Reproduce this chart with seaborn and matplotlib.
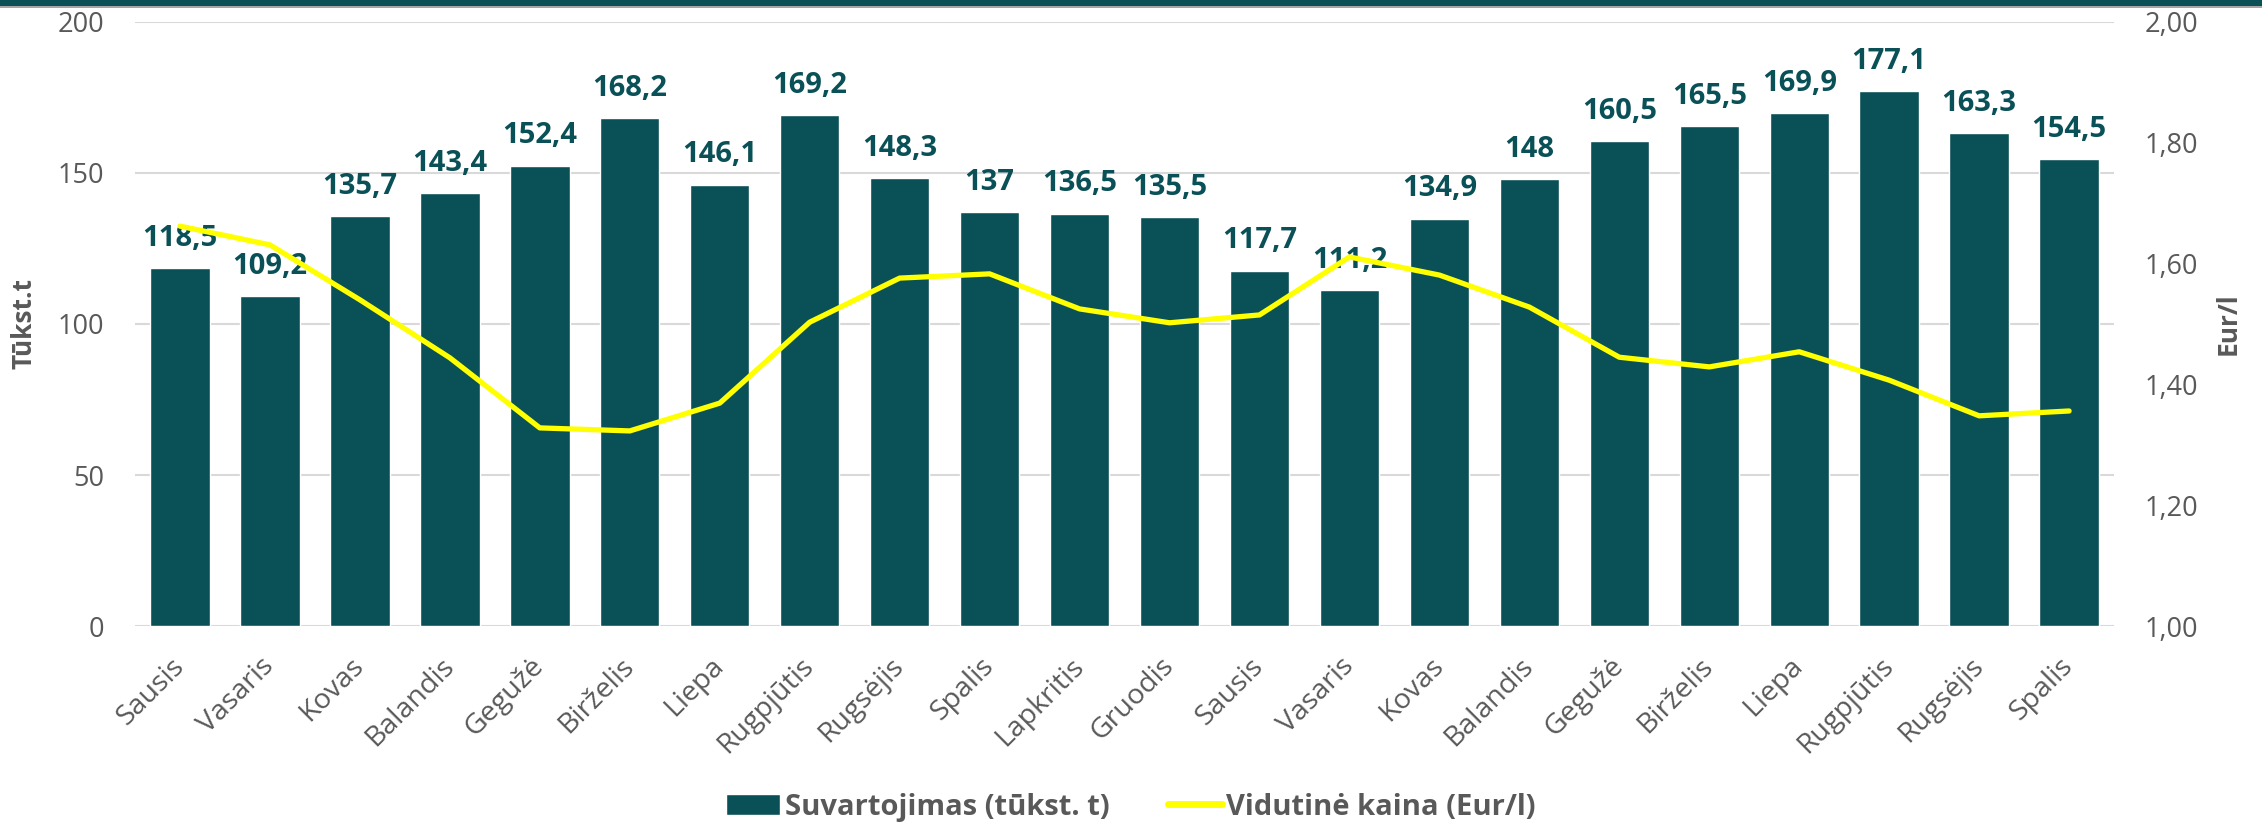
import pandas as pd
import seaborn as sns
import matplotlib.pyplot as plt
import matplotlib.transforms as mtransforms
from matplotlib.patches import Patch, Rectangle
from matplotlib.lines import Line2D
from matplotlib.ticker import FuncFormatter

# ==================== 数据 ====================
menesiai = ['Sausis', 'Vasaris', 'Kovas', 'Balandis', 'Gegužė', 'Birželis', 'Liepa',
            'Rugpjūtis', 'Rugsėjis', 'Spalis', 'Lapkritis', 'Gruodis',
            'Sausis', 'Vasaris', 'Kovas', 'Balandis', 'Gegužė', 'Birželis', 'Liepa',
            'Rugpjūtis', 'Rugsėjis', 'Spalis']
suvartojimas = [118.5, 109.2, 135.7, 143.4, 152.4, 168.2, 146.1, 169.2, 148.3, 137.0, 136.5, 135.5,
                117.7, 111.2, 134.9, 148.0, 160.5, 165.5, 169.9, 177.1, 163.3, 154.5]
kaina = [1.662, 1.631, 1.540, 1.444, 1.328, 1.323, 1.369, 1.503, 1.576, 1.583, 1.525, 1.502,
         1.515, 1.611, 1.581, 1.528, 1.445, 1.429, 1.454, 1.407, 1.348, 1.356]

bar_label = 'Suvartojimas (tūkst. t)'
line_label = 'Vidutinė kaina (Eur/l)'

df = pd.DataFrame({'idx': range(len(menesiai)), 'menuo': menesiai,
                   'kiekis': suvartojimas, 'kaina': kaina})

# ==================== 样式 ====================
sns.set_theme(style='white')
plt.rcParams['font.family'] = ['Open Sans', 'DejaVu Sans']

bar_color = '#0A5057'
line_color = '#FFFF00'
text_gray = '#595959'
grid_gray = '#D9D9D9'

fig = plt.figure(figsize=(22.62, 8.26), dpi=100)
ax1 = fig.add_axes([0.0597, 0.2421, 0.8749, 0.7313])

# 柱状图
sns.barplot(data=df, x='idx', y='kiekis', color=bar_color, width=0.66,
            saturation=1, ax=ax1, zorder=2)
ax1.set_xlim(-0.5, len(menesiai) - 0.5)
ax1.set_ylim(0, 200)
ax1.set_yticks([0, 50, 100, 150, 200])
ax1.grid(axis='y', color=grid_gray, linewidth=1.5, zorder=0)
ax1.set_axisbelow(True)
for s in ax1.spines.values():
    s.set_visible(False)

ax1.bar_label(ax1.containers[0],
              labels=[f'{v:g}'.replace('.', ',') for v in suvartojimas],
              padding=11, fontsize=21, fontweight='bold', color=bar_color)

ax1.set_xticks(range(len(menesiai)))
ax1.set_xticklabels(menesiai, rotation=45, ha='right', va='center',
                    rotation_mode='anchor', fontsize=20.5, color=text_gray)
shift = mtransforms.ScaledTranslation(8 / 100, 0, fig.dpi_scale_trans)
for lbl in ax1.get_xticklabels():
    lbl.set_transform(lbl.get_transform() + shift)
ax1.tick_params(axis='x', length=0, pad=26)
ax1.tick_params(axis='y', length=0, pad=22, labelsize=19.5, labelcolor=text_gray)
ax1.set_xlabel('')
ax1.set_ylabel('Tūkst.t', fontsize=19, fontweight='bold', color=text_gray, labelpad=15)

# 折线图（右轴）
ax2 = ax1.twinx()
sns.lineplot(data=df, x='idx', y='kaina', color=line_color, linewidth=3.8, ax=ax2)
ax2.set_ylim(1.0, 2.0)
ax2.set_yticks([1.0, 1.2, 1.4, 1.6, 1.8, 2.0])
ax2.yaxis.set_major_formatter(FuncFormatter(lambda v, p: f'{v:.2f}'.replace('.', ',')))
ax2.tick_params(axis='y', length=0, pad=22, labelsize=19.5, labelcolor=text_gray)
ax2.set_ylabel('Eur/l', fontsize=19, fontweight='bold', color=text_gray,
               rotation=90, labelpad=12)
ax2.grid(False)
for s in ax2.spines.values():
    s.set_visible(False)

# 图例
legend_elements = [
    Patch(facecolor=bar_color, label=bar_label),
    Line2D([0], [0], color=line_color, linewidth=5, label=line_label),
]
leg = fig.legend(handles=legend_elements, loc='center', bbox_to_anchor=(0.5, 0.023),
                 ncol=2, frameon=False, fontsize=21, handlelength=1.85, handleheight=0.75,
                 handletextpad=0.15, columnspacing=2.0)
for t in leg.get_texts():
    t.set_color(text_gray)
    t.set_fontweight('bold')

# 顶部装饰条
fig.patches.append(Rectangle((0, 1 - 6 / 826), 1, 6 / 826, transform=fig.transFigure,
                             facecolor=bar_color, edgecolor='none', zorder=10))
fig.patches.append(Rectangle((0, 1 - 8 / 826), 1, 2 / 826, transform=fig.transFigure,
                             facecolor='#A6A6A6', edgecolor='none', zorder=10))

fig.savefig('out.png', dpi=100)
